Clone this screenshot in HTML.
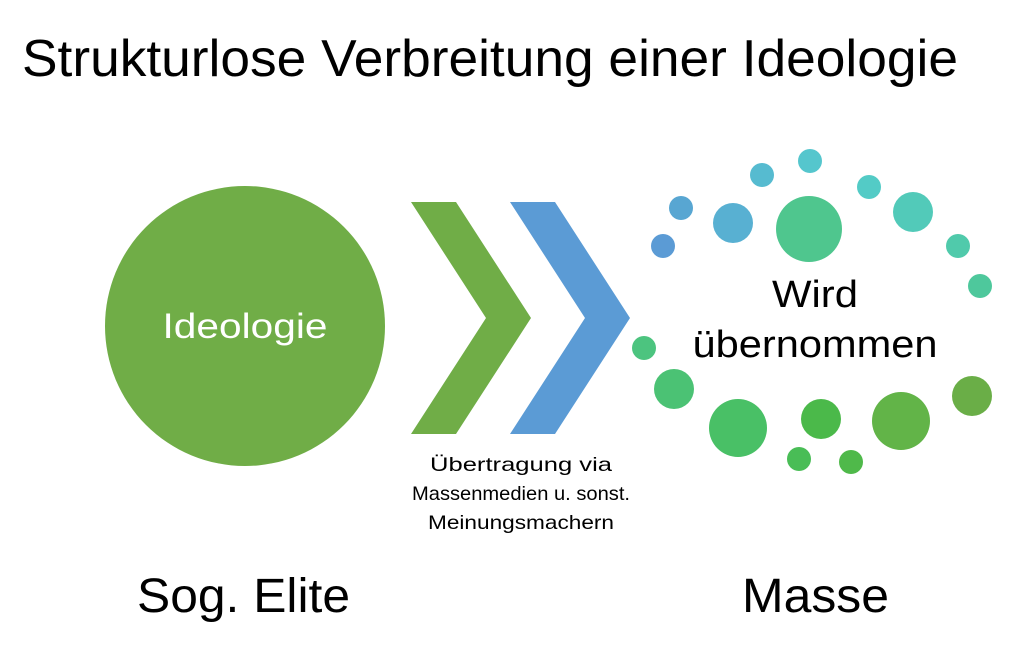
<!DOCTYPE html>
<html><head><meta charset="utf-8"><style>html,body{margin:0;padding:0;background:#fff}svg{display:block}</style></head>
<body>
<svg width="1024" height="669" viewBox="0 0 1024 669" xmlns="http://www.w3.org/2000/svg" font-family="Liberation Sans, sans-serif">
<text x="22" y="76" font-size="52" textLength="936" lengthAdjust="spacingAndGlyphs" fill="#000">Strukturlose Verbreitung einer Ideologie</text>
<circle cx="245" cy="326" r="140" fill="#70ad47"/>
<text x="245" y="338" font-size="35" fill="#fff" text-anchor="middle" textLength="165" lengthAdjust="spacingAndGlyphs">Ideologie</text>
<polygon points="411,202 456,202 531,318 456,434 411,434 486,318" fill="#70ad47"/>
<polygon points="510,202 555,202 630,318 555,434 510,434 585,318" fill="#5b9bd5"/>
<g font-size="19.5" fill="#000" text-anchor="middle">
<text x="521" y="471" textLength="182" lengthAdjust="spacingAndGlyphs">Übertragung via</text>
<text x="521" y="500" textLength="218" lengthAdjust="spacingAndGlyphs">Massenmedien u. sonst.</text>
<text x="521" y="529" textLength="186" lengthAdjust="spacingAndGlyphs">Meinungsmachern</text>
</g>
<circle cx="663" cy="246" r="12" fill="#5b9bd5"/>
<circle cx="681" cy="208" r="12" fill="#58a6d2"/>
<circle cx="733" cy="223" r="20" fill="#58b0d2"/>
<circle cx="762" cy="175" r="12" fill="#56bbd0"/>
<circle cx="810" cy="161" r="12" fill="#55c6cd"/>
<circle cx="809" cy="229" r="33" fill="#4fc68e"/>
<circle cx="869" cy="187" r="12" fill="#53cbc6"/>
<circle cx="913" cy="212" r="20" fill="#52cab9"/>
<circle cx="958" cy="246" r="12" fill="#50caab"/>
<circle cx="980" cy="286" r="12" fill="#4ec89c"/>
<circle cx="644" cy="348" r="12" fill="#4cc47f"/>
<circle cx="674" cy="389" r="20" fill="#4bc274"/>
<circle cx="738" cy="428" r="29" fill="#49c066"/>
<circle cx="821" cy="419" r="20" fill="#4bb94a"/>
<circle cx="901" cy="421" r="29" fill="#62b448"/>
<circle cx="972" cy="396" r="20" fill="#6aae47"/>
<circle cx="799" cy="459" r="12" fill="#49bd56"/>
<circle cx="851" cy="462" r="12" fill="#4fb94a"/>
<text x="815" y="307" font-size="38" text-anchor="middle" textLength="86" lengthAdjust="spacingAndGlyphs">Wird</text>
<text x="815" y="357" font-size="38" text-anchor="middle" textLength="245" lengthAdjust="spacingAndGlyphs">übernommen</text>
<text x="137" y="612" font-size="48" textLength="213" lengthAdjust="spacingAndGlyphs">Sog. Elite</text>
<text x="742" y="612" font-size="48" textLength="147" lengthAdjust="spacingAndGlyphs">Masse</text>
</svg>
</body></html>
